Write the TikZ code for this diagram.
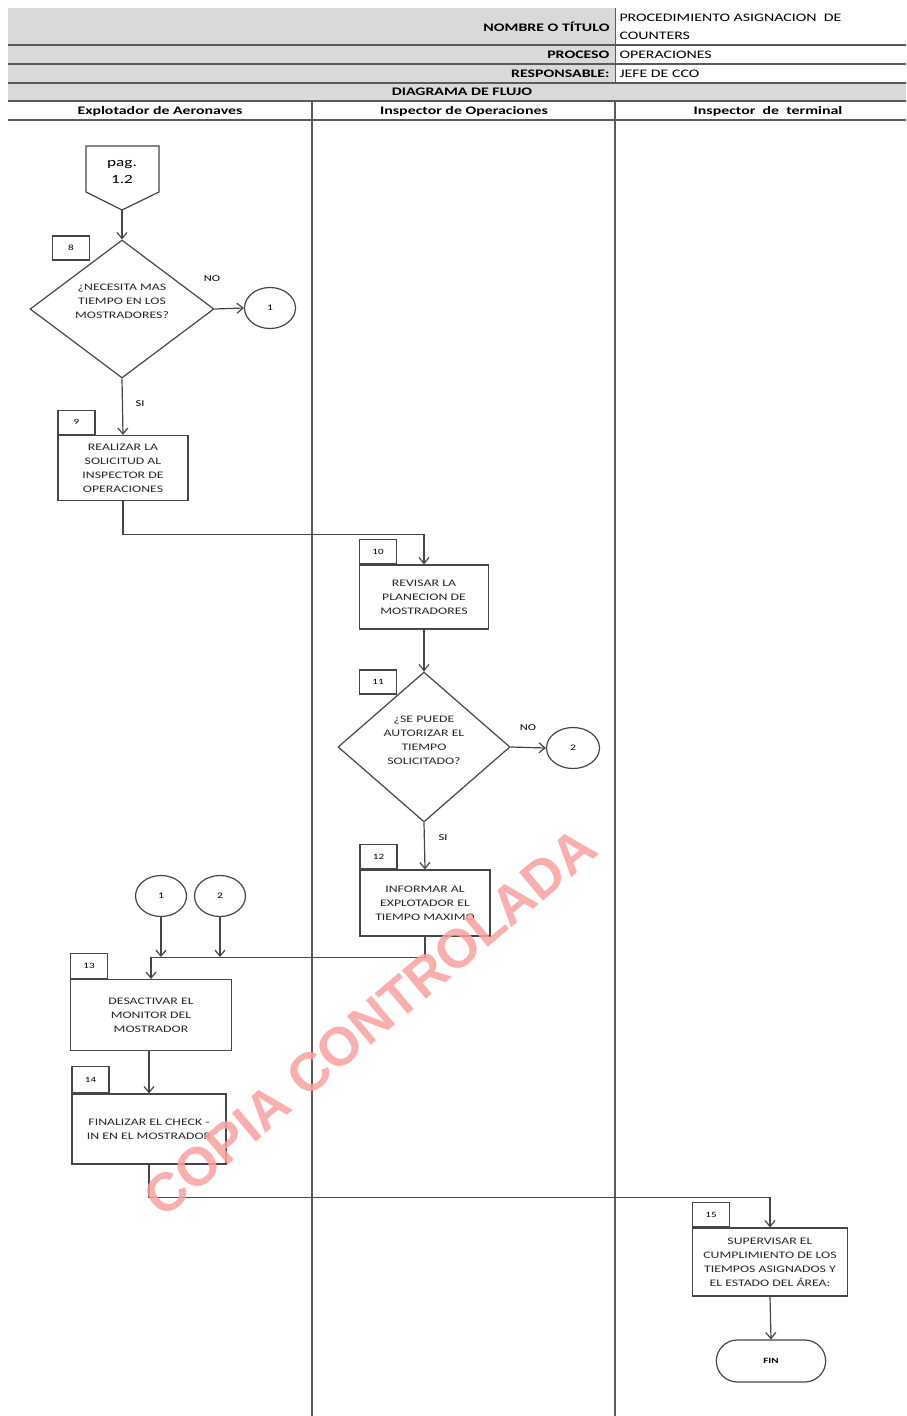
\documentclass[tikz,border=0pt]{standalone}
\usepackage{fontspec}
\setmainfont{Carlito}[FakeStretch=1.38]
\newfontfamily\wmfont{Liberation Sans}
\usepackage{xcolor}
\usepackage{tikz}
\usetikzlibrary{shapes,shapes.geometric,shapes.misc,arrows.meta,positioning,calc}
\definecolor{headgray}{RGB}{217, 217, 217}
\definecolor{rulegray}{RGB}{90, 90, 90}
\definecolor{flowgray}{RGB}{70, 70, 70}
\definecolor{stamppink}{RGB}{250, 160, 160}

\begin{document}
\begin{tikzpicture}[x=1pt, y=-1pt,
    proc/.style={draw=flowgray, line width=1.2pt, fill=white, align=center, inner sep=2pt,
        font=\fontsize{10}{14}\selectfont\color{black!85}},
    numbox/.style={draw=flowgray, line width=1.2pt, minimum width=37pt, minimum height=24pt,
        inner sep=0pt, font=\fontsize{8}{9}\selectfont},
    decision/.style={diamond, draw=flowgray, line width=1.2pt, inner sep=0pt},
    decitext/.style={align=center, inner sep=0pt, font=\fontsize{10}{14}\selectfont\color{black!85}},
    linkcirc/.style={ellipse, draw=flowgray, line width=1.2pt, minimum width=51pt, minimum height=41pt,
        inner sep=0pt, font=\fontsize{8.5}{9}\selectfont},
    flow/.style={draw=flowgray, line width=1.2pt, -{Straight Barb[length=6pt, width=10pt]}},
    tag/.style={font=\fontsize{9}{10}\selectfont},
    headbold/.style={font=\fontsize{11.5}{13}\selectfont\bfseries},
    headval/.style={font=\fontsize{11.5}{18}\selectfont, anchor=west, align=left}]
    \useasboundingbox (0,0) rectangle (906,1416);
    \fill[white] (0,0) rectangle (906,1416);

    % Header table
    \fill[headgray] (8,8) rectangle (906,101);
    \fill[white] (615,8) rectangle (906,83);
    \foreach \y in {45, 64, 83, 101, 120} {
        \draw[rulegray, line width=1.3pt] (8,\y) -- (906,\y);
    }
    \draw[rulegray, line width=1pt] (615,8) -- (615,83);
    \node[headbold, anchor=east] (hname) at (613,27) {NOMBRE O TÍTULO};
    \node[headval, anchor=north west] (vname) at (616,11) {PROCEDIMIENTO ASIGNACION\ \ DE\\COUNTERS};
    \node[headval] (vproc) at (616,55) {OPERACIONES};
    \node[headbold, anchor=east] (hproc) at (613,55) {PROCESO};
    \node[headval] (vresp) at (616,74) {JEFE DE CCO};
    \node[headbold, anchor=east] (hresp) at (613,74) {RESPONSABLE:};
    \node[headbold] (hdiag) at (462,92) {DIAGRAMA DE FLUJO};

    % Swimlanes
    \draw[rulegray, line width=1.3pt] (312,101) -- (312,1416);
    \draw[rulegray, line width=1.3pt] (615,101) -- (615,1416);
    \node[headbold] (laneA) at (160,111) {Explotador de Aeronaves};
    \node[headbold] (laneB) at (464,111) {Inspector de Operaciones};
    \node[headbold] (laneC) at (768,111) {Inspector\ \ de\ \ terminal};

    % Off-page connector
    \draw[flowgray, line width=1.2pt] (86,146) -- (159,146) -- (159,192) -- (122,210) -- (86,192) -- cycle;
    \node[font=\fontsize{12.5}{17}\selectfont, align=center] (pag) at (122,172) {pag.\\1.2};
    \coordinate (pagtip) at (122,210);

    % Step 8
    \node[decision, minimum width=184pt, minimum height=138pt] (d8) at (122,309) {};
    \node[decitext] (d8txt) at (122,301) {¿NECESITA MAS\\TIEMPO EN LOS\\MOSTRADORES?};
    \node[numbox] (n8) at (71,248) {8};
    \node[linkcirc] (c1a) at (270,308) {1};
    \draw[flow] (pagtip) -- (d8.north);
    \draw[flow] (d8.east) -- (c1a.west);
    \node[tag] (no8) at (212,279) {NO};

    % Step 9
    \node[proc, minimum width=130pt, minimum height=65pt] (p9) at (123,468)
        {REALIZAR LA\\SOLICITUD AL\\INSPECTOR DE\\OPERACIONES};
    \node[numbox, anchor=south west] (n9) at (p9.north west) {9};
    \draw[flow] (d8.south) -- (p9.north);
    \node[tag] (si8) at (140,404) {SI};

    % Step 10
    \node[proc, minimum width=129pt, minimum height=64pt] (p10) at (424,597)
        {REVISAR LA\\PLANECION DE\\MOSTRADORES};
    \node[numbox, anchor=south west] (n10) at (p10.north west) {10};
    \draw[flow] (p9.south) -- ++(0,33) -| (p10.north);

    % Step 11
    \node[decision, minimum width=172pt, minimum height=150pt] (d11) at (424,747) {};
    \node[decitext] (d11txt) at (424,740) {¿SE PUEDE\\AUTORIZAR EL\\TIEMPO\\SOLICITADO?};
    \node[numbox] (n11) at (378,682) {11};
    \node[linkcirc, minimum width=53pt] (c2a) at (573,748) {2};
    \draw[flow] (p10.south) -- (d11.north);
    \draw[flow] (d11.east) -- (c2a.west);
    \node[tag] (no11) at (528,728) {NO};

    % Step 12
    \node[proc, minimum width=130pt, minimum height=66pt] (p12) at (425,903)
        {INFORMAR AL\\EXPLOTADOR EL\\TIEMPO MAXIMO};
    \node[numbox, anchor=south west] (n12) at (p12.north west) {12};
    \draw[flow] (d11.south) -- (p12.north);
    \node[tag] (si11) at (443,838) {SI};

    % Step 13 with incoming connectors
    \node[linkcirc] (c1b) at (161,896) {1};
    \node[linkcirc] (c2b) at (220,896) {2};
    \node[proc, minimum width=161pt, minimum height=71pt] (p13) at (151,1015)
        {DESACTIVAR EL\\MONITOR DEL\\MOSTRADOR};
    \node[numbox, minimum height=25pt, anchor=south west] (n13) at (p13.north west) {13};
    \coordinate (j1) at (161,957);
    \coordinate (j2) at (220,957);
    \draw[flow] (p12.south) -- ++(0,21) -| (p13.north);
    \draw[flow] (c1b.south) -- (j1);
    \draw[flow] (c2b.south) -- (j2);

    % Step 14
    \node[proc, minimum width=154pt, minimum height=70pt] (p14) at (149,1129)
        {FINALIZAR EL CHECK -\\IN EN EL MOSTRADOR};
    \node[numbox, minimum height=26pt, anchor=south west] (n14) at (p14.north west) {14};
    \draw[flow] (p13.south -| p14.north) -- (p14.north);

    % Step 15 and end
    \node[proc, minimum width=155pt, minimum height=68pt] (p15) at (770,1262)
        {SUPERVISAR EL\\CUMPLIMIENTO DE LOS\\TIEMPOS ASIGNADOS Y\\EL ESTADO DEL ÁREA:};
    \node[numbox, anchor=south west] (n15) at (p15.north west) {15};
    \node[rounded rectangle, draw=flowgray, line width=1.2pt, minimum width=116pt, minimum height=42pt,
        font=\fontsize{8}{9}\selectfont\bfseries] (fin) at (771,1361) {FIN};
    \draw[flow] (p14.south) -- ++(0,33) -| (p15.north);
    \draw[flow] (p15.south) -- (fin.north);

    % Watermark
    \node[font=\wmfont\fontsize{54}{60}\selectfont\bfseries, text=stamppink, opacity=0.85,
        rotate=40] (stamp) at (370,1022) {COPIA CONTROLADA};
\end{tikzpicture}
\end{document}
